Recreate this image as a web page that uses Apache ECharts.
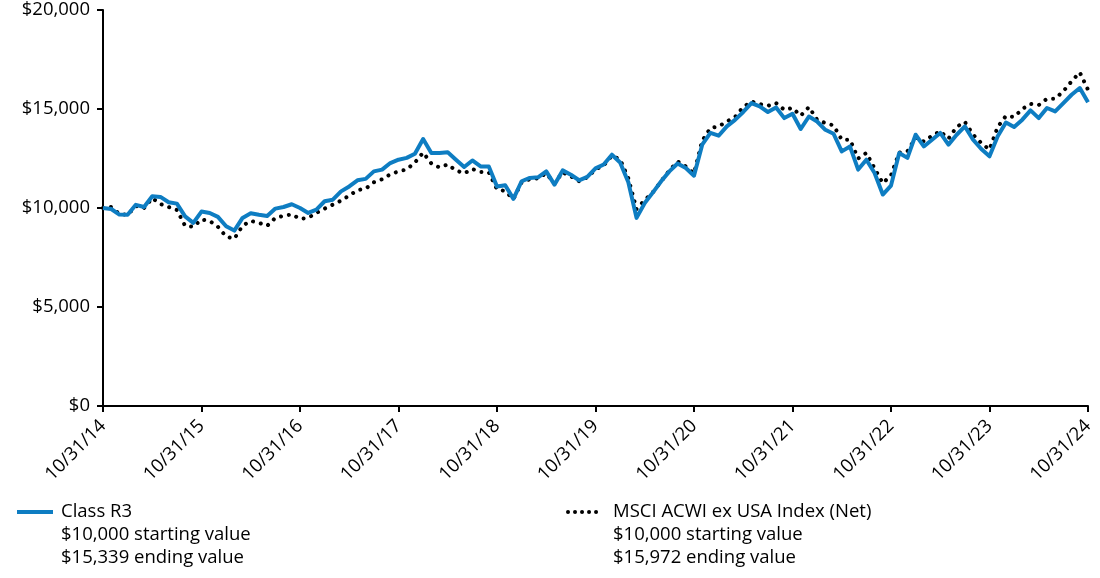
<!DOCTYPE html>
<html>
<head>
<meta charset="utf-8">
<script src="https://cdn.jsdelivr.net/npm/echarts@6/dist/echarts.min.js"></script>
<style>
html,body{margin:0;padding:0;background:#fff;}
#chart{width:1100px;height:578px;}
</style>
</head>
<body>
<div id="chart"></div>
<script>
// ---- Data ----
const seriesNames = ['Class R3', 'MSCI ACWI ex USA Index (Net)'];
const legendLines = [
  ['Class R3', '$10,000 starting value', '$15,339 ending value'],
  ['MSCI ACWI ex USA Index (Net)', '$10,000 starting value', '$15,972 ending value']
];
const yTicks = [0, 5000, 10000, 15000, 20000];

const classR3 = [
  10000, 9950, 9670, 9660, 10160, 10050, 10590, 10560, 10290, 10220, 9580, 9250,
  9820, 9750, 9550, 9080, 8860, 9500, 9730, 9660, 9600, 9970, 10050, 10190,
  10000, 9750, 9920, 10340, 10420, 10840, 11090, 11400, 11470, 11850, 11940, 12270,
  12440, 12530, 12740, 13480, 12780, 12780, 12810, 12440, 12070, 12400, 12100, 12100,
  11090, 11150, 10460, 11350, 11520, 11550, 11850, 11180, 11900, 11680, 11400, 11570,
  12000, 12200, 12690, 12300, 11300, 9500, 10250, 10790, 11350, 11850, 12250, 12020,
  11630, 13200, 13790, 13650, 14120, 14450, 14850, 15300, 15130, 14850, 15080, 14540,
  14760, 13990, 14620, 14370, 13950, 13750, 12860, 13110, 11940, 12440, 11770, 10680,
  11130, 12780, 12530, 13700, 13110, 13450, 13790, 13200, 13700, 14120, 13450, 12980,
  12610, 13620, 14320, 14090, 14460, 14930, 14540, 15050, 14880, 15300, 15720, 16060,
  15339
];

const msci = [
  10000, 10050, 9700, 9650, 10100, 10000, 10500, 10200, 10050, 9900, 9100, 9050,
  9420, 9350, 9050, 8560, 8450, 9100, 9350, 9250, 9100, 9500, 9600, 9680,
  9450, 9500, 9750, 9970, 10170, 10370, 10630, 10900, 10980, 11300, 11450, 11700,
  11850, 11950, 12300, 12800, 12250, 12050, 12200, 11900, 11750, 11970, 11820, 11800,
  10950, 10850, 10450, 11300, 11450, 11500, 11750, 11250, 11800, 11600, 11350, 11550,
  11950, 12150, 12650, 12450, 11500, 9950, 10400, 10800, 11350, 11900, 12350, 12100,
  11750, 13400, 14040, 14120, 14370, 14600, 15100, 15380, 15250, 15160, 15300, 14960,
  15050, 14660, 15100, 14460, 14290, 14170, 13450, 13450, 12500, 12780, 12000, 11250,
  11650, 12800, 12860, 13550, 13360, 13650, 13870, 13500, 14100, 14350, 13700, 13280,
  12950, 14100, 14650, 14600, 15000, 15260, 15200, 15520, 15520, 15900, 16400, 16850,
  15972
];

// month-end dates from 10/31/14 to 10/31/24
const categories = [];
for (let k = 0; k < classR3.length; k++) {
  const m0 = 9 + k; // October 2014 = month index 9
  const year = 2014 + Math.floor(m0 / 12);
  const month = m0 % 12; // 0-based
  const lastDay = new Date(year, month + 1, 0).getDate();
  const mm = String(month + 1).padStart(2, '0');
  const dd = String(lastDay).padStart(2, '0');
  const yy = String(year % 100).padStart(2, '0');
  categories.push(mm + '/' + dd + '/' + yy);
}

const blue = '#0e7dc2';
const FONT = 'Open Sans';
const FS = 18.5;

const chart = echarts.init(document.getElementById('chart'), null, {renderer: 'canvas'});
chart.setOption({
  animation: false,
  backgroundColor: '#fff',
  grid: {left: 103, right: 12, top: 10, bottom: 172, containLabel: false},
  xAxis: {
    type: 'category',
    data: categories,
    boundaryGap: false,
    axisLine: {show: true, lineStyle: {color: '#000', width: 2}},
    axisTick: {show: true, interval: 11, length: 6, lineStyle: {color: '#000', width: 2}},
    axisLabel: {
      interval: 11, rotate: 45, margin: 17,
      color: '#000', fontSize: FS, fontFamily: FONT
    },
    splitLine: {show: false}
  },
  yAxis: {
    type: 'value',
    min: yTicks[0], max: yTicks[yTicks.length - 1], interval: 5000,
    axisLine: {show: true, lineStyle: {color: '#000', width: 2}},
    axisTick: {show: true, length: 6, lineStyle: {color: '#000', width: 2}},
    axisLabel: {
      margin: 13, color: '#000', fontSize: FS, fontFamily: FONT,
      formatter: v => '$' + v.toLocaleString('en-US')
    },
    splitLine: {show: false}
  },
  series: [
    {
      name: seriesNames[1], type: 'line', data: msci, symbol: 'none', z: 2,
      lineStyle: {color: '#000', width: 4, type: [0.01, 8], cap: 'round', join: 'round'}
    },
    {
      name: seriesNames[0], type: 'line', data: classR3, symbol: 'none', z: 3,
      lineStyle: {color: blue, width: 4, join: 'round'}
    }
  ],
  graphic: [
    {type: 'line', shape: {x1: 17, y1: 512, x2: 53, y2: 512},
     style: {stroke: blue, lineWidth: 4}},
    {type: 'text', x: 61, y: 500.5,
     style: {text: legendLines[0].join('\n'), font: FS + 'px "Open Sans"', fill: '#000', lineHeight: 23}},
    {type: 'line', shape: {x1: 568, y1: 512, x2: 603, y2: 512},
     style: {stroke: '#000', lineWidth: 4, lineDash: [0.01, 7], lineCap: 'round'}},
    {type: 'text', x: 613, y: 500.5,
     style: {text: legendLines[1].join('\n'), font: FS + 'px "Open Sans"', fill: '#000', lineHeight: 23}}
  ]
});
</script>
</body>
</html>
